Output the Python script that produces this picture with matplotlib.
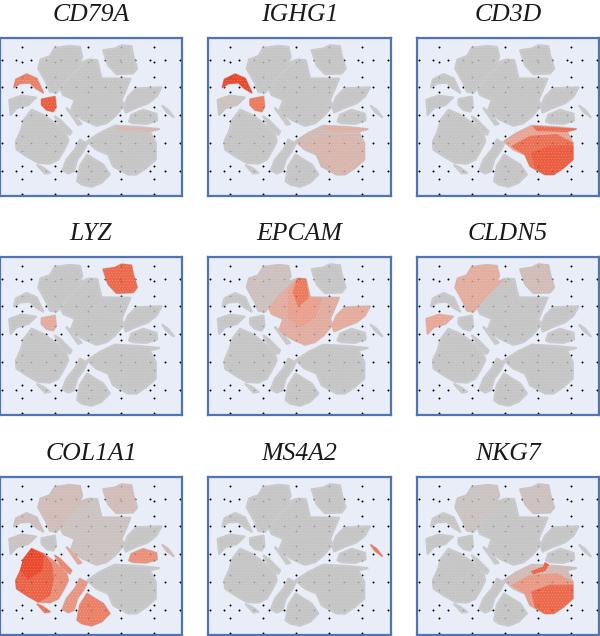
import matplotlib
matplotlib.use("Agg")
import matplotlib.pyplot as plt
from matplotlib.colors import LinearSegmentedColormap
from matplotlib.patches import Polygon

genes = ["CD79A", "IGHG1", "CD3D", "LYZ", "EPCAM", "CLDN5", "COL1A1", "MS4A2", "NKG7"]

# cluster outlines in tSNE plot units
topCenter = [(115, 205), (122, 178), (150, 168), (165, 143), (210, 137), (240, 140), (247, 170), (237, 190), (262, 180), (245, 197), (205, 235), (180, 265), (170, 278), (150, 275), (140, 250), (128, 228)]
topRight = [(310, 150), (345, 145), (365, 135), (395, 138), (400, 165), (412, 205), (400, 220), (350, 222), (325, 195)]
center = [(182, 268), (215, 225), (268, 178), (292, 180), (305, 235), (392, 236), (378, 270), (365, 300), (372, 318), (345, 350), (320, 370), (290, 378), (250, 360), (212, 335), (225, 300), (190, 285)]
centerUpper = [(268, 178), (292, 180), (305, 235), (340, 240), (320, 295), (275, 325), (240, 295), (240, 215)]
epcamHot = [(268, 178), (292, 180), (300, 235), (270, 262), (255, 220)]
rightUpper = [(372, 320), (385, 290), (410, 265), (485, 262), (470, 290), (445, 310), (405, 325), (378, 338)]
rightSmall = [(388, 365), (395, 345), (430, 330), (470, 342), (472, 362), (440, 372), (400, 370)]
bArc = [(42, 262), (48, 238), (80, 222), (110, 235), (130, 278), (108, 265), (90, 248), (60, 250)]
leftSmall = [(28, 300), (65, 287), (108, 293), (85, 315), (50, 325), (32, 345)]
plasma = [(125, 298), (165, 290), (168, 320), (160, 335), (140, 330), (125, 315)]
leftBig = [(95, 330), (130, 345), (165, 370), (200, 405), (205, 425), (190, 455), (175, 480), (150, 492), (115, 490), (80, 470), (50, 450), (48, 425), (62, 395), (72, 360)]
leftCore = [(95, 330), (130, 345), (155, 375), (160, 420), (150, 470), (115, 490), (80, 470), (50, 450), (48, 425), (62, 395), (72, 360)]
leftHot = [(95, 330), (130, 350), (125, 395), (85, 420), (62, 395), (72, 360)]
bottomMid = [(188, 512), (200, 480), (225, 450), (240, 420), (262, 432), (250, 455), (232, 480), (222, 515), (205, 522)]
bottom = [(232, 545), (240, 500), (262, 465), (285, 480), (310, 495), (330, 525), (305, 550), (275, 562), (245, 555)]
tCell = [(262, 425), (300, 400), (345, 378), (420, 382), (478, 388), (450, 395), (468, 430), (468, 480), (440, 505), (410, 525), (385, 525), (340, 500), (325, 465), (290, 450)]
tCellMid = [(285, 440), (340, 410), (420, 405), (468, 430), (468, 480), (440, 505), (410, 525), (385, 525), (340, 500), (325, 465)]
tCellLow = [(345, 460), (400, 440), (468, 440), (468, 480), (440, 505), (410, 525), (385, 525), (355, 505)]
tCellBand = [(350, 380), (478, 388), (450, 395), (360, 392)]
leftTail = [(112, 497), (130, 505), (150, 520), (135, 522)]
rightTail = [(488, 318), (505, 330), (522, 352), (500, 335)]
scrapA = [(200, 325), (212, 335), (245, 372), (235, 375)]
scrapB = [(165, 350), (180, 360), (215, 395), (210, 405), (185, 385)]
nkBits = [(345, 398), (380, 385), (385, 372), (395, 378), (385, 395), (350, 405)]

clusters = [topCenter, topRight, center, centerUpper, epcamHot, rightUpper, rightSmall, bArc, leftSmall, plasma,
            leftBig, leftCore, leftHot, bottomMid, bottom, tCell, tCellMid, tCellLow, tCellBand,
            leftTail, rightTail, scrapA, scrapB, nkBits]
baseClusters = [topCenter, topRight, center, rightUpper, rightSmall, bArc, leftSmall, plasma,
                leftBig, bottomMid, bottom, tCell, leftTail, rightTail, scrapA, scrapB]

# expression level per cluster, same order as clusters
cd79a = [0, 0, 0, 0, 0, 0, 0, .58, 0, .8, 0, 0, 0, 0, 0, 0, 0, 0, .15, 0, 0, 0, 0, 0]
ighg1 = [0, 0, 0, 0, 0, 0, 0, .92, .04, .62, 0, 0, 0, 0, 0, .12, .17, .17, .25, 0, 0, 0, 0, 0]
cd3d = [0, 0, 0, 0, 0, 0, 0, 0, 0, 0, 0, 0, 0, 0, 0, .35, .68, .8, .7, 0, 0, 0, 0, 0]
lyz = [0, .72, 0, 0, 0, 0, 0, 0, 0, .3, 0, 0, 0, 0, 0, 0, 0, 0, 0, 0, 0, 0, 0, 0]
epcam = [.05, 0, .27, .38, .62, .3, 0, 0, 0, 0, 0, 0, 0, 0, 0, 0, 0, 0, 0, 0, 0, 0, 0, 0]
cldn5 = [.28, .1, 0, 0, 0, 0, 0, 0, .33, 0, 0, 0, 0, 0, 0, 0, 0, 0, 0, 0, 0, 0, 0, 0]
col1a1 = [.1, .1, .03, .03, 0, 0, .48, .08, .03, 0, .5, .76, .92, .45, .58, 0, 0, 0, 0, .65, .12, .35, .55, 0]
ms4a2 = [0, 0, 0, 0, 0, 0, 0, 0, 0, 0, 0, 0, 0, 0, 0, 0, 0, 0, 0, 0, .65, 0, 0, 0]
nkg7 = [.02, .05, 0, 0, 0, 0, 0, 0, 0, 0, 0, 0, 0, 0, 0, .12, .42, .72, 0, 0, 0, 0, 0, .75]
levels = [cd79a, ighg1, cd3d, lyz, epcam, cldn5, col1a1, ms4a2, nkg7]

panelLeft = [0, 208.5, 417]
panelTop = [38, 257, 477]
panelWidth = 182
panelHeight = 158

# black marker grid behind the clusters
colX = [66, 165, 264, 363, 462]
colY = [140, 185, 230, 275, 320, 365, 410, 455, 500, 540, 585]
rowX = [5, 48, 93, 138, 183, 228, 272, 316, 361, 406, 450, 495, 540]
rowY = [178, 262, 346, 430, 515]
gridX = [x for x in colX for y in colY] + [x for x in rowX for y in rowY]
gridY = [y for x in colX for y in colY] + [y for x in rowX for y in rowY]

figW, figH = 600, 636
heat = LinearSegmentedColormap.from_list("heat", ["#c8c5c5", "#e8a898", "#ec7256", "#ea3d20"])

plt.rcParams["font.family"] = ["Liberation Serif", "DejaVu Serif"]
plt.rcParams["hatch.linewidth"] = 0.3
fig = plt.figure(figsize=(figW / 100, figH / 100), dpi=100)

for i, gene in enumerate(genes):
    left = panelLeft[i % 3]
    top = panelTop[i // 3]
    ax = fig.add_axes([left / figW, 1 - (top + panelHeight) / figH, panelWidth / figW, panelHeight / figH])
    ax.set_xlim(0, 547)
    ax.set_ylim(590, 113)
    ax.set_xticks([])
    ax.set_yticks([])
    ax.set_facecolor("#e8edf7")
    for spine in ax.spines.values():
        spine.set_color("#4f74b4")
        spine.set_linewidth(1.6)

    ax.scatter(gridX, gridY, s=1.9, c="black", linewidths=0, zorder=1)

    for outline in baseClusters:
        ax.add_patch(Polygon(outline, closed=True, fc="#c6c5c5", ec="#c9c8ca", lw=1.6, joinstyle="round", zorder=2))

    for k, outline in enumerate(clusters):
        level = levels[i][k]
        if level > 0:
            ax.add_patch(Polygon(outline, closed=True, fc=heat(level), ec=heat(level), lw=0.8, joinstyle="round", zorder=3))

    # fine speckle over the cell clouds
    for outline in baseClusters:
        ax.add_patch(Polygon(outline, closed=True, fc="none", ec=(0.95, 0.95, 0.97, 0.3), lw=0, hatch="......", zorder=4))

    ax.scatter(gridX, gridY, s=1.6, c="black", alpha=0.2, linewidths=0, zorder=5)

    ax.set_title(gene, fontsize=18.5, style="italic", color="#1a1a1a", pad=12)

plt.savefig("out.png", dpi=100)
plt.close()
